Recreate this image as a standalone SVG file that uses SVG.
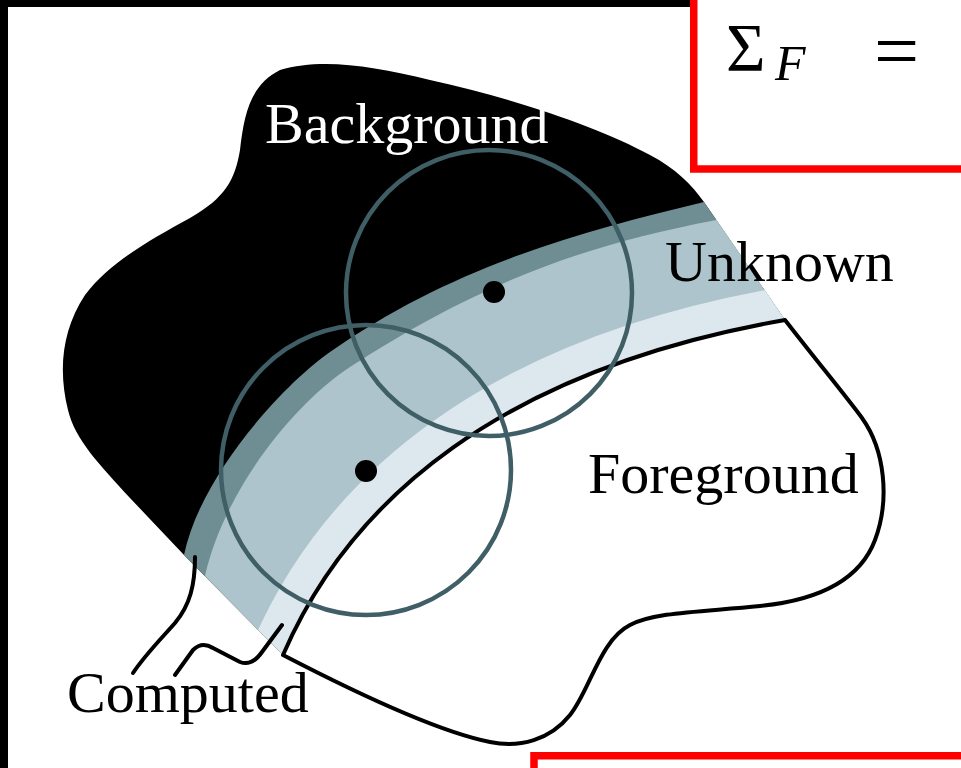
<svg xmlns="http://www.w3.org/2000/svg" width="961" height="768" viewBox="0 0 961 768">
<style>
.lbl{font-family:"Liberation Serif","Times New Roman",serif;font-size:58px}
.ring{fill:none;stroke:#3f5e65;stroke-width:4.5}
.outline{stroke:#000;stroke-width:4;stroke-linejoin:round;stroke-linecap:round}
.lead{fill:none;stroke:#000;stroke-width:4;stroke-linecap:round;stroke-linejoin:round}
.red{fill:none;stroke:#ff0000;stroke-width:7.5}
.eq{font-family:"Liberation Serif","Times New Roman",serif;fill:#000}
</style>
<defs>
<clipPath id="bandClip">
<path d="M72,442 L283,655 C350,500 500,370 785,320 L616,72 L0,0 Z"/>
</clipPath>
</defs>
<rect x="0" y="0" width="961" height="768" fill="#ffffff"/>
<g id="background">
<path d="M184,555 L130,498 C100,465 75,440 68,410 C58,370 62,330 85,295 C110,262 150,240 190,218 C225,198 235,180 240,150 C244,115 250,85 280,70 C320,58 370,65 430,80 C520,100 600,128 650,155 C675,168 692,185 704,202 L785,320 C500,370 350,500 283,655 Z" fill="#000"/>
<text class="lbl" x="265" y="143" fill="#ffffff">Background</text>
</g>
<g id="unknown">
<path fill="#6f8e94" d="M184,555 C200,477 280.8,386.5 330,352 C453,265.8 580,232 704,202 L785,320 C500,370 350,500 283,655 Z"/>
<path fill="#aec4cc" d="M205,576 C224.8,488.2 295.5,402.6 350,367 C484,279.8 590,244 716.6,220 L785,320 C500,370 350,500 283,655 Z"/>
<g clip-path="url(#bandClip)">
<path d="M259,710 L283,655 C350,500 500,370 785,320 L844,310" fill="none" stroke="#dde7ee" stroke-width="66"/>
</g>
<text class="lbl" x="665" y="281" fill="#000">Unknown</text>
</g>
<g id="foreground">
<path class="outline" fill="#ffffff" d="M283,655 C350,500 500,370 785,320 C820,365 845,395 862,418 C885,450 890,500 875,540 C860,580 820,600 760,606 C700,612 655,612 630,625 C600,640 590,690 570,715 C550,740 520,748 490,742 C440,732 360,695 283,655 Z"/>
<text class="lbl" x="588" y="493" fill="#000">Foreground</text>
</g>
<g id="windows">
<circle class="ring" cx="489" cy="293" r="143"/>
<circle class="ring" cx="366" cy="470" r="145"/>
<circle cx="494" cy="292" r="11" fill="#000"/>
<circle cx="366" cy="471" r="11" fill="#000"/>
</g>
<g id="connectors">
<path class="lead" d="M195,557 C195,585 190,605 175,623 C160,640 145,655 133,673"/>
<path class="lead" d="M282,625 L262,652 C255,662 248,665 240,662 L213,648 C205,643 198,645 193,650 L175,675"/>
</g>
<g id="computed">
<text class="lbl" x="67" y="712" fill="#000">Computed</text>
</g>
<g id="frame">
<rect x="0" y="0" width="8" height="768" fill="#000"/>
<rect x="0" y="0" width="690" height="7" fill="#000"/>
</g>
<g id="equation-box">
<rect class="red" x="693.75" y="-20" width="300" height="189"/>
<text class="eq" x="726" y="70" font-size="68">Σ</text>
<text class="eq" x="775" y="80" font-size="50" font-style="italic">F</text>
<text class="eq" x="874" y="78" font-size="80">=</text>
</g>
<g id="lower-box">
<rect class="red" x="534" y="755.75" width="460" height="60"/>
</g>
</svg>
